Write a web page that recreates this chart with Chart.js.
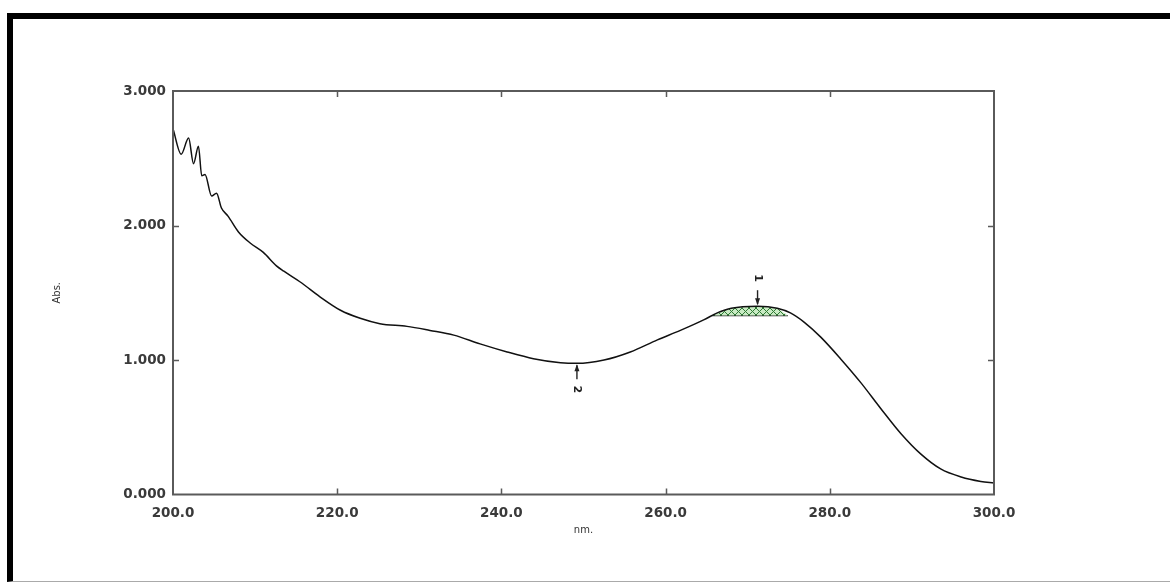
<!DOCTYPE html>
<html lang="en">
<head>
  <meta charset="UTF-8">
  <title>Absorbance spectrum</title>
  <script src="https://cdn.jsdelivr.net/npm/chart.js"></script>
  <style>
    body { margin: 0; background: #fff; }
    #frame {
      position: absolute;
      left: 7px; top: 13px;
      width: 1163px; height: 569px;
      box-sizing: border-box;
      border-top: 6px solid #000;
      border-left: 6px solid #000;
      border-bottom: 1px solid #aaa;
    }
    #spectrum { position: absolute; left: 0; top: 0; }
  </style>
</head>
<body>
  <div id="frame"></div>
  <canvas id="spectrum" width="1170" height="583"></canvas>

  <script>
    // spectrum (nm, Abs.)
    const wavelength = [200.0, 201.0, 201.9, 202.5, 203.1, 203.5, 203.9, 204.7, 205.3, 205.9,
      206.7, 208.0, 209.4, 211.0, 212.6, 213.5, 215.5, 217.9, 220.4, 222.8,
      225.2, 228.5, 231.3, 234.2, 237.4, 240.7, 243.9, 247.2, 249.2, 252.5,
      255.7, 259.0, 261.8, 264.7, 266.3, 268.0, 271.2, 273.6, 275.2, 276.9,
      278.9, 281.3, 283.8, 286.2, 288.7, 291.1, 293.5, 296.0, 298.4, 300.0];
    const absorbance = [2.72, 2.53, 2.65, 2.46, 2.59, 2.37, 2.38, 2.22, 2.24, 2.13,
      2.07, 1.95, 1.87, 1.80, 1.70, 1.66, 1.58, 1.47, 1.37, 1.31,
      1.27, 1.25, 1.22, 1.185, 1.12, 1.06, 1.01, 0.98, 0.975, 1.00,
      1.06, 1.15, 1.22, 1.30, 1.35, 1.385, 1.40, 1.385, 1.35, 1.28,
      1.17, 1.01, 0.83, 0.64, 0.45, 0.30, 0.19, 0.13, 0.097, 0.085];

    // hatched peak area above its baseline
    const hatchX = [265.6, 266.3, 268.0, 271.2, 273.6, 274.9];
    const hatchY = [1.33, 1.35, 1.385, 1.40, 1.385, 1.33];
    const hatchBase = 1.33;

    // picked peak (1) and valley (2)
    const markText = ['1', '2'];
    const markX = [271.2, 249.2];
    const markY = [1.40, 0.975];

    const xTicks = [200, 220, 240, 260, 280, 300];
    const yTicks = [0, 1, 2, 3];

    const toXY = (xs, ys) => xs.map((x, i) => ({ x: x, y: ys[i] }));

    // crosshatch pattern for the peak area
    function makeHatch() {
      const c = document.createElement('canvas');
      c.width = 7; c.height = 7;
      const g = c.getContext('2d');
      g.fillStyle = '#c9ebc4';
      g.fillRect(0, 0, 7, 7);
      g.strokeStyle = '#2f7a34';
      g.lineWidth = 1;
      g.beginPath();
      g.moveTo(0, 0); g.lineTo(7, 7);
      g.moveTo(7, 0); g.lineTo(0, 7);
      g.stroke();
      return g.createPattern(c, 'repeat');
    }

    // box round the plot, inward ticks, peak/valley arrows
    const framePlugin = {
      id: 'framePlugin',
      afterDatasetsDraw(chart) {
        const ctx = chart.ctx;
        const a = chart.chartArea;
        const xs = chart.scales.x, ys = chart.scales.y;
        ctx.save();
        ctx.strokeStyle = '#5a5a5a';
        ctx.lineWidth = 2;
        ctx.strokeRect(a.left, a.top, a.right - a.left, a.bottom - a.top);

        ctx.lineWidth = 1.5;
        ctx.beginPath();
        xTicks.slice(1, -1).forEach(v => {
          const px = Math.round(xs.getPixelForValue(v)) + 0.5;
          ctx.moveTo(px, a.bottom); ctx.lineTo(px, a.bottom - 6);
          ctx.moveTo(px, a.top); ctx.lineTo(px, a.top + 6);
        });
        yTicks.slice(1, -1).forEach(v => {
          const py = Math.round(ys.getPixelForValue(v)) + 0.5;
          ctx.moveTo(a.left, py); ctx.lineTo(a.left + 6, py);
          ctx.moveTo(a.right, py); ctx.lineTo(a.right - 6, py);
        });
        ctx.stroke();

        ctx.fillStyle = '#222';
        ctx.strokeStyle = '#222';
        ctx.lineWidth = 1.4;
        ctx.font = 'bold 11px "DejaVu Sans"';
        ctx.textAlign = 'center';
        ctx.textBaseline = 'middle';
        markText.forEach((t, i) => {
          const px = xs.getPixelForValue(markX[i]);
          const tip = ys.getPixelForValue(markY[i]);
          const dir = i === 0 ? -1 : 1; // 1 sits above the curve, 2 below
          const tail = tip + dir * 16;
          ctx.beginPath();
          ctx.moveTo(px, tail); ctx.lineTo(px, tip + dir * 2);
          ctx.stroke();
          ctx.beginPath();
          ctx.moveTo(px, tip + dir * 1);
          ctx.lineTo(px - 2.5, tip + dir * 8);
          ctx.lineTo(px + 2.5, tip + dir * 8);
          ctx.closePath();
          ctx.fill();
          ctx.save();
          ctx.translate(px, tip + dir * (i === 0 ? 28 : 26));
          ctx.rotate(Math.PI / 2);
          ctx.fillText(t, 0, 0);
          ctx.restore();
        });
        ctx.restore();
      }
    };

    const tickFont = { family: '"DejaVu Sans"', size: 13.5, weight: 'bold' };

    const ctx = document.getElementById('spectrum').getContext('2d');
    const chart = new Chart(ctx, {
      type: 'line',
      data: {
        datasets: [
          {
            label: 'Abs.',
            data: toXY(wavelength, absorbance),
            borderColor: '#111',
            borderWidth: 1.5,
            pointRadius: 0,
            cubicInterpolationMode: 'monotone',
            fill: false
          },
          {
            label: 'area',
            data: toXY(hatchX, hatchY),
            borderWidth: 0,
            pointRadius: 0,
            backgroundColor: makeHatch(),
            fill: { value: hatchBase }
          },
          {
            label: 'baseline',
            data: [{ x: hatchX[0], y: hatchBase }, { x: hatchX[hatchX.length - 1], y: hatchBase }],
            borderColor: '#333',
            borderWidth: 1.3,
            pointRadius: 0,
            fill: false
          }
        ]
      },
      options: {
        responsive: false,
        devicePixelRatio: 1,
        animation: false,
        layout: { padding: { left: 30, right: 176, top: 91, bottom: 28.5 } },
        plugins: {
          legend: { display: false },
          tooltip: { enabled: false }
        },
        scales: {
          x: {
            type: 'linear',
            min: 200,
            max: 300,
            afterBuildTicks: s => { s.ticks = xTicks.map(v => ({ value: v })); },
            afterFit: s => { s.height = 60; },
            grid: { display: false, drawTicks: false },
            border: { display: false },
            ticks: {
              padding: 11,
              color: '#3a3a3a',
              font: tickFont,
              maxRotation: 0,
              callback: v => v.toFixed(1)
            },
            title: {
              display: true,
              text: 'nm.',
              color: '#333',
              font: { family: '"DejaVu Sans"', size: 10 },
              padding: { top: 0, bottom: 18 }
            }
          },
          y: {
            min: 0,
            max: 3,
            afterBuildTicks: s => { s.ticks = yTicks.map(v => ({ value: v })); },
            afterFit: s => { s.width = 143; },
            grid: { display: false, drawTicks: false },
            border: { display: false },
            ticks: {
              padding: 7,
              color: '#3a3a3a',
              font: tickFont,
              callback: v => v.toFixed(3)
            },
            title: {
              display: true,
              text: 'Abs.',
              color: '#333',
              font: { family: '"DejaVu Sans"', size: 10 },
              padding: { top: 21, bottom: 0 }
            }
          }
        }
      },
      plugins: [framePlugin]
    });
  </script>
</body>
</html>
